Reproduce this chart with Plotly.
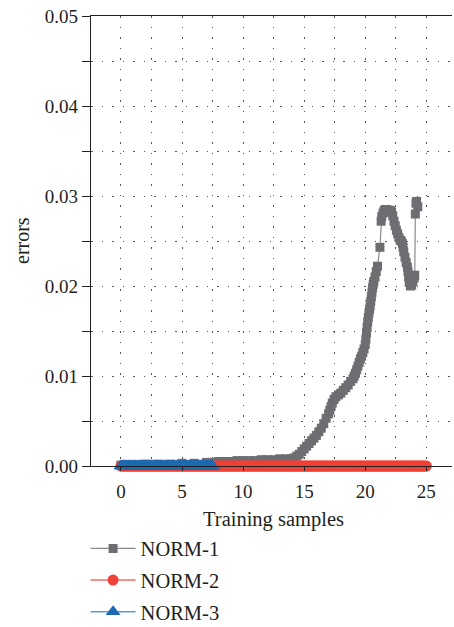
import plotly.graph_objects as go

# ---- data ----
samples_red = [i * 0.1 for i in range(251)]           # 0 .. 25
norm2 = [0.0] * len(samples_red)
samples_blue = [i * 0.1 for i in range(76)]           # 0 .. 7.5
norm3 = [0.0] * len(samples_blue)

samples_gray = [0, 1, 2, 3, 4, 5, 6, 7, 7.5, 8, 8.5, 9, 9.5, 10, 10.5, 11, 11.5, 12, 12.5, 13, 13.5, 14,
                14.2, 14.4, 14.6, 14.8, 15.0, 15.2, 15.4, 15.6, 15.8, 16.0, 16.2, 16.4, 16.6, 16.8, 17.0,
                17.1, 17.2, 17.3, 17.45, 17.6, 17.8, 18.0, 18.2, 18.4, 18.6, 18.8, 19.0, 19.1, 19.2,
                19.3, 19.4, 19.5, 19.6, 19.7, 19.8, 19.9, 20.0, 20.05, 20.1, 20.15, 20.2, 20.25, 20.3,
                20.35, 20.4, 20.45, 20.5, 20.55, 20.6, 20.65, 20.7, 20.8, 20.9, 21.0, 21.2, 21.3, 21.35,
                21.45, 21.55, 21.65, 21.75, 21.85, 21.95, 22.05, 22.15, 22.25, 22.35, 22.45, 22.55, 22.65,
                22.75, 22.85, 22.95, 23.05, 23.1, 23.15, 23.25, 23.35, 23.45, 23.5, 23.55, 23.6, 23.7,
                23.8, 23.9, 24.0, 24.05, 24.1, 24.15, 24.2, 24.3]
norm1 = [0.0001, 0.0001, 0.0002, 0.0002, 0.0002, 0.0003, 0.0003, 0.0004, 0.0004, 0.0005, 0.0005,
         0.0005, 0.0006, 0.0006, 0.0006, 0.0006, 0.0007, 0.0007, 0.0007, 0.0008, 0.0008, 0.0008,
         0.0009, 0.0011, 0.0013, 0.0016, 0.0019, 0.0022, 0.0025, 0.0028, 0.0031, 0.0034, 0.0038,
         0.0042, 0.0047, 0.0053, 0.0058, 0.0062, 0.0066, 0.0070, 0.0074, 0.0077, 0.0079, 0.0081,
         0.0084, 0.0087, 0.0090, 0.0094, 0.0097, 0.0100, 0.0103, 0.0107, 0.0111, 0.0115, 0.0119,
         0.0122, 0.0126, 0.0130, 0.0135, 0.0141, 0.0148, 0.0154, 0.0160, 0.0165, 0.0170, 0.0174,
         0.0178, 0.0183, 0.0188, 0.0193, 0.0198, 0.0202, 0.0205, 0.0210, 0.0216, 0.0222, 0.0243,
         0.0272, 0.0277, 0.0281, 0.0284, 0.0285, 0.0285, 0.0284, 0.0284, 0.0284, 0.0282, 0.0278,
         0.0272, 0.0267, 0.0262, 0.0258, 0.0254, 0.0251, 0.0250, 0.0247, 0.0243, 0.0238, 0.0232,
         0.0226, 0.0221, 0.0216, 0.0210, 0.0204, 0.0200, 0.0201, 0.0205, 0.0209, 0.0212, 0.0280,
         0.0292, 0.0294, 0.0288, 0.0283]

x_ticks = [0, 5, 10, 15, 20, 25]
y_ticks = [0.00, 0.01, 0.02, 0.03, 0.04, 0.05]
y_tick_labels = ["0.00", "0.01", "0.02", "0.03", "0.04", "0.05"]

GRAY = "#6d6e71"
RED = "#ef4136"
BLUE = "#1b6ab3"
INK = "#231f20"
FONT = "Liberation Serif"
GRID = dict(showgrid=True, gridcolor="#555", griddash="1.5px,9px", gridwidth=1.3)

fig = go.Figure()
fig.add_trace(go.Scatter(
    x=samples_gray, y=norm1, name="NORM-1", mode="lines+markers", legendgroup="a",
    line=dict(color="#8a8b8d", width=1.2),
    marker=dict(symbol="square", size=9, color=GRAY),
    cliponaxis=False))
fig.add_trace(go.Scatter(
    x=samples_red, y=norm2, name="NORM-2", mode="lines+markers", legendgroup="b",
    line=dict(color="#f26d64", width=1.5),
    marker=dict(symbol="circle", size=11, color=RED),
    cliponaxis=False))
fig.add_trace(go.Scatter(
    x=samples_blue, y=norm3, name="NORM-3", mode="lines+markers", legendgroup="c",
    line=dict(color="#5b9bd5", width=1.5),
    marker=dict(symbol="triangle-up", size=13, color=BLUE),
    cliponaxis=False))

fig.update_layout(
    width=454, height=627,
    margin=dict(l=91, r=2, t=16, b=161, autoexpand=False),
    paper_bgcolor="white", plot_bgcolor="white",
    font=dict(family=FONT, size=19, color=INK),
    showlegend=True,
    legend=dict(x=-0.015, xanchor="left", y=-0.139, yanchor="top", itemwidth=45,
                tracegroupgap=2, font=dict(size=20.5), bgcolor="rgba(0,0,0,0)"),
    annotations=[
        dict(text="Training samples", x=12.5, xref="x", y=0, yref="paper", yshift=-53,
             yanchor="middle", showarrow=False, font=dict(size=20.5)),
        dict(text="errors", x=0, xref="paper", xshift=-69, y=0.5, yref="paper", textangle=-90,
             xanchor="center", yanchor="middle", showarrow=False, font=dict(size=20)),
    ],
)

fig.update_xaxes(
    range=[-2.45, 27.1], tickvals=x_ticks, ticktext=[str(v) for v in x_ticks],
    ticks="outside", ticklen=4, tickcolor=INK, ticklabelstandoff=4,
    showline=True, linecolor=INK, linewidth=1.2, mirror=True,
    minor=dict(dtick=2.5, tick0=0, ticks="", **GRID),
    zeroline=False, tickfont=dict(size=19), automargin=False, **GRID,
)
fig.update_yaxes(
    range=[0, 0.05], tickvals=y_ticks, ticktext=y_tick_labels,
    ticks="outside", ticklen=8, tickcolor=INK,
    showline=True, linecolor=INK, linewidth=1.2,
    minor=dict(dtick=0.005, tick0=0, ticks="outside", ticklen=8, tickcolor=INK, **GRID),
    zeroline=False, tickfont=dict(size=19), automargin=False, **GRID,
)

fig.write_html("out.html", config={"displayModeBar": False},
               post_script="document.body.style.margin='0';")
